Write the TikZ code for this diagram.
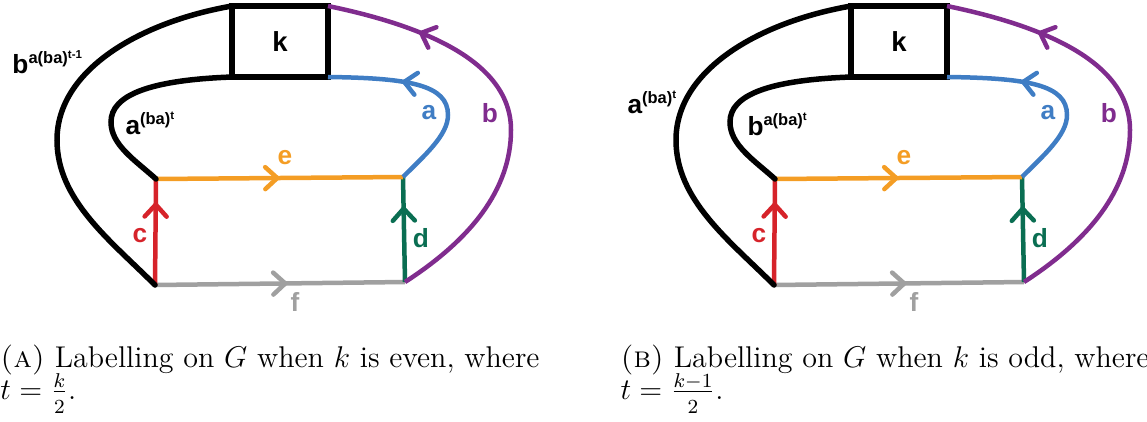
\documentclass[tikz,border=0pt]{standalone}
\usepackage{fontspec}
\newfontfamily\labfont{Liberation Sans}
\usetikzlibrary{arrows.meta,decorations.markings}
\definecolor{corange}{RGB}{244,157,36}
\definecolor{cred}{RGB}{214,35,42}
\definecolor{cgreen}{RGB}{10,110,82}
\definecolor{cblue}{RGB}{63,125,196}
\definecolor{cpurple}{RGB}{128,44,142}
\definecolor{cgray}{RGB}{160,160,160}
\newcommand\supA[1]{\raisebox{3.8pt}{\fontsize{6.6}{8}\selectfont #1}}
\newcommand\supB[1]{\raisebox{2.2pt}{\fontsize{4.6}{6}\selectfont #1}}
\newcommand\lowden[1]{\raisebox{-1.5pt}{$\scriptstyle #1$}}
\tikzset{
  edge/.style={line width=1.8pt},
  blk/.style={line width=2.2pt, black, line cap=round},
  mk/.style={postaction={decorate,decoration={markings,
      mark=at position #1 with {\arrow{Straight Barb[length=4.8pt,width=8.8pt,round]}}}}},
  lab/.style={font=\labfont\bfseries\fontsize{10.5}{12}\selectfont, inner sep=0pt},
  supl/.style={font=\labfont\bfseries\fontsize{10.5}{12}\selectfont, inner sep=0pt, anchor=base west},
  kbox/.style={draw, line width=2.2pt, minimum width=38.4pt, minimum height=28.4pt,
      inner sep=0pt, outer sep=0pt, font=\labfont\bfseries\fontsize{11}{12}\selectfont},
  captxt/.style={font=\fontsize{12}{12.3}\selectfont, inner sep=0pt, anchor=base west}
}
\newcommand\graphG[4]{%
  \begin{scope}[shift={(#1,0)}, name prefix=#2-]
    \node[kbox] (K) at (280,41.5) {k};
    \coordinate (TL) at (156,179);
    \coordinate (TR) at (403,177);
    \coordinate (BL) at (155,285);
    \coordinate (BR) at (405,282);
    \draw[edge, cgray, mk=0.53] (BL) -- (BR);
    \draw[edge, cred, mk=0.78] (BL) -- (TL);
    \draw[edge, cgreen, mk=0.72] (BR) -- (TR);
    \draw[edge, corange, mk=0.5] (TL) -- (TR);
    \draw[edge, cblue, mk=0.655] (TR) .. controls (425,155) and (448,135) .. (448,115)
          .. controls (448,85) and (410,78) .. (K.south east);
    \draw[edge, cpurple, mk=0.78] (BR) .. controls (470,240) and (511,190) .. (511,130)
          .. controls (511,60) and (420,25) .. (K.north east);
    \draw[blk] (K.north west) .. controls (140,22) and (57,70) .. (57,140)
          .. controls (57,200) and (110,240) .. (BL);
    \draw[blk] (K.south west) .. controls (150,80) and (111,95) .. (111,122)
          .. controls (111,145) and (135,160) .. (TL);
    \node[lab, text=corange] (e) at (285,158) {e};
    \node[lab, text=cred] (c) at (140,236) {c};
    \node[lab, text=cgreen] (d) at (421,238) {d};
    \node[lab, text=cblue] (a) at (429,113) {a};
    \node[lab, text=cpurple] (b) at (490,113) {b};
    \node[lab, text=cgray] (f) at (295,302) {f};
    #3
    #4
  \end{scope}}
\begin{document}
\begin{tikzpicture}[x=0.4pt, y=-0.4pt]
  \useasboundingbox (0,0) rectangle (1147,421);
  \graphG{0}{L}
    {\node[supl] (outer) at (12,73) {b\supA{a(ba)\supB{t-1}}};}
    {\node[supl] (inner) at (125,134) {a\supA{(ba)\supB{t}}};}
  \graphG{619}{R}
    {\node[supl] (outer) at (8,113) {a\supA{(ba)\supB{t}}};}
    {\node[supl] (inner) at (128,135) {b\supA{a(ba)\supB{t}}};}
  \node[captxt] (capA1) at (0,367) {\textsc{(a)} Labelling on $G$ when $k$ is even, where};
  \node[captxt] (capA2) at (0,399) {$t=\frac{k}{\lowden{2}}$.};
  \node[captxt] (capB1) at (620,367) {\textsc{(b)} Labelling on $G$ when $k$ is odd, where};
  \node[captxt] (capB2) at (620,399) {$t=\frac{k-1}{\lowden{2}}$.};
\end{tikzpicture}
\end{document}
